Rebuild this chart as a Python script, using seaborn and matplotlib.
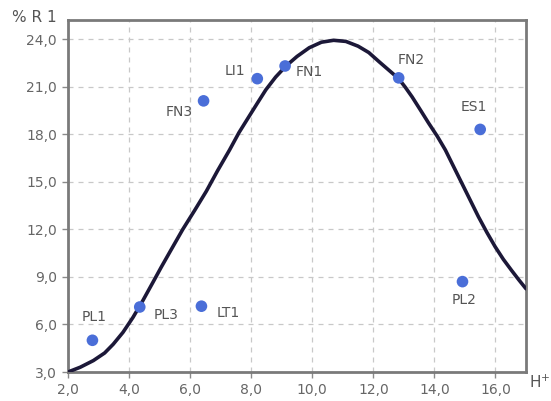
import matplotlib
matplotlib.use("Agg")
import matplotlib.pyplot as plt
import seaborn as sns
import pandas as pd
from matplotlib.ticker import FuncFormatter

# ---- data ----
curve_x = [2.0, 2.4, 2.83, 3.2, 3.48, 3.8, 4.13, 4.45, 4.78, 5.05, 5.33, 5.76,
           6.15, 6.53, 6.9, 7.29, 7.6, 7.94, 8.2, 8.48, 8.8, 9.14, 9.5, 9.9,
           10.3, 10.7, 11.1, 11.5, 11.85, 12.2, 12.5, 12.83, 13.05, 13.27, 13.55,
           13.81, 14.1, 14.36, 14.63, 14.9, 15.17, 15.44, 15.72, 15.99, 16.26,
           16.53, 16.77, 17.0]
curve_y = [3.0, 3.3, 3.72, 4.2, 4.75, 5.5, 6.45, 7.5, 8.65, 9.6, 10.55, 12.0,
           13.2, 14.4, 15.7, 17.0, 18.1, 19.15, 19.95, 20.8, 21.6, 22.3, 22.9, 23.45,
           23.8, 23.92, 23.85, 23.55, 23.15, 22.55, 22.05, 21.5, 20.95, 20.35, 19.5,
           18.7, 17.85, 17.0, 15.95, 14.9, 13.85, 12.8, 11.8, 10.9, 10.1,
           9.4, 8.8, 8.25]

point_names = ["PL1", "PL3", "LT1", "FN3", "LI1", "FN1", "FN2", "ES1", "PL2"]
point_x = [2.8, 4.35, 6.37, 6.44, 8.2, 9.11, 12.83, 15.5, 14.92]
point_y = [5.0, 7.1, 7.15, 20.1, 21.5, 22.3, 21.55, 18.3, 8.7]

x_ticks = [2, 4, 6, 8, 10, 12, 14, 16]
y_ticks = [3, 6, 9, 12, 15, 18, 21, 24]
y_label = "% R 1"
x_label = "H$^{+}$"

# label offsets in pixels (dx, dy)
label_offsets = [(2, 23), (26, -8), (27, -7), (-24, -11), (-22, 8), (24, -6),
                 (13, 18), (-6, 22), (2, -18)]

sns.set_theme(style="white")
plt.rcParams['font.family'] = ['DejaVu Sans']

fig = plt.figure(figsize=(5.51, 4.01), dpi=100)
ax = fig.add_axes([68 / 551, 1 - 372 / 401, (526 - 68) / 551, (372 - 20) / 401])

curve = pd.DataFrame({"x": curve_x, "y": curve_y})
pts = pd.DataFrame({"x": point_x, "y": point_y, "name": point_names})

sns.lineplot(data=curve, x="x", y="y", sort=False, ax=ax, color="#1c1838",
             linewidth=2.6, zorder=3, solid_joinstyle="round")
sns.scatterplot(data=pts, x="x", y="y", ax=ax, color="#4a6ed8", s=70,
                edgecolor="none", zorder=4)

for name, px, py, off in zip(point_names, point_x, point_y, label_offsets):
    ax.annotate(name, (px, py), xytext=off, textcoords="offset pixels",
                ha="center", va="center", fontsize=10, color="#555555")

ax.set_xlim(2, 17)
ax.set_ylim(3, 25.2)
ax.set_xticks(x_ticks)
ax.set_yticks(y_ticks)
fmt = FuncFormatter(lambda v, p: f"{v:.1f}".replace(".", ","))
ax.xaxis.set_major_formatter(fmt)
ax.yaxis.set_major_formatter(fmt)
ax.set_xlabel("")
ax.set_ylabel("")

ax.grid(True, color="#c8c8c8", linestyle=(0, (4, 4)), linewidth=0.9)
ax.set_axisbelow(True)
for sp in ax.spines.values():
    sp.set_color("#7a7a7a")
    sp.set_linewidth(2.0)
    sp.set_visible(True)

ax.tick_params(axis="both", which="both", direction="out", length=4, width=1,
               color="#8a8a8a", labelsize=10, labelcolor="#666666", pad=4,
               left=True, bottom=True)

fig.text(12 / 551, 1 - 18 / 401, y_label, fontsize=11, color="#555555",
         ha="left", va="center")
fig.text(529 / 551, 1 - 382 / 401, x_label, fontsize=11, color="#555555",
         ha="left", va="center")

fig.savefig("out.png", dpi=100)
